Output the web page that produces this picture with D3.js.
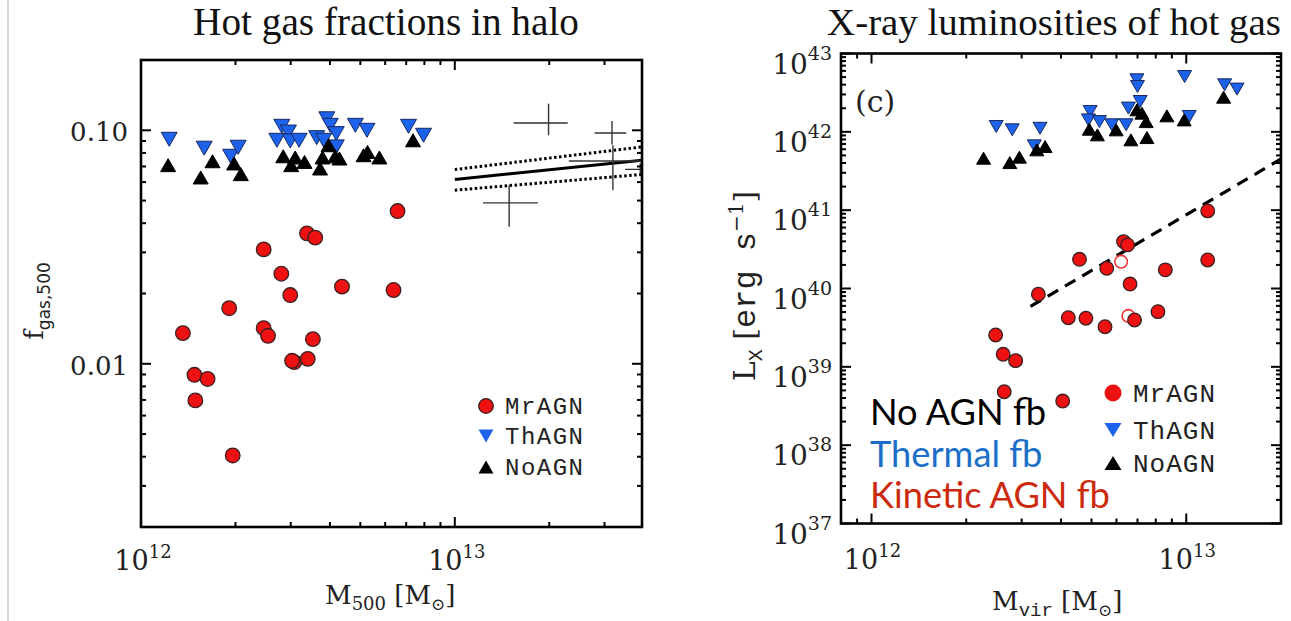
<!DOCTYPE html>
<html><head><meta charset="utf-8">
<script src="https://cdn.jsdelivr.net/npm/d3@7"></script>
<style>body{margin:0;background:#fff}svg{display:block}</style>
</head><body>
<svg id="c" width="1291" height="621"></svg>
<script>
// ---------- Left panel data: hot gas fraction vs M500 ----------
const thMassL = [1.23e12,1.59e12,1.93e12,2.04e12,2.71e12,2.81e12,2.95e12,2.99e12,3.19e12,3.63e12,3.82e12,3.91e12,4.01e12,4.19e12,4.19e12,4.82e12,5.25e12,7.12e12,7.95e12];
const thFracL = [0.0915,0.0838,0.0774,0.0846,0.0906,0.104,0.0983,0.090,0.0906,0.093,0.0906,0.112,0.105,0.0968,0.0849,0.105,0.100,0.104,0.0952];
const noMassL = [1.22e12,1.55e12,1.69e12,1.98e12,2.08e12,2.84e12,3.01e12,3.10e12,3.32e12,3.72e12,3.79e12,3.96e12,4.16e12,4.29e12,5.12e12,5.27e12,5.75e12,7.36e12];
const noFracL = [0.0709,0.0628,0.0737,0.0721,0.0649,0.0774,0.0709,0.0765,0.0732,0.0686,0.0765,0.0863,0.0774,0.0757,0.0782,0.0808,0.0765,0.0906];
const mrMassL = [6.57e12,3.38e12,3.59e12,2.46e12,2.80e12,2.99e12,4.37e12,6.38e12,1.91e12,1.36e12,2.46e12,2.54e12,3.53e12,3.08e12,3.03e12,3.40e12,1.48e12,1.63e12,1.49e12,1.96e12];
const mrFracL = [0.0451,0.0362,0.0347,0.0309,0.0243,0.0197,0.0214,0.0207,0.0173,0.01353,0.01421,0.01318,0.01275,0.01017,0.0103,0.0105,0.00897,0.00861,0.00697,0.00405];
// observational crosses
const obsMass   = [1.99e13,3.17e13,3.19e13,1.49e13,3.9e13];
const obsMassLo = [1.54e13,2.79e13,2.31e13,1.23e13,3.49e13];
const obsMassHi = [2.29e13,3.52e13,4.2e13,1.84e13,4.5e13];
const obsFrac   = [0.1075,0.0974,0.0739,0.0489,0.068];
const obsFracLo = [0.0952,0.0869,0.0554,0.0386,0.0648];
const obsFracHi = [0.130,0.1096,0.0863,0.0582,0.0723];
// fit relation
const fitMass = [1e13,3.95e13];
const fitMid  = [0.0616,0.0744];
const fitHi   = [0.0679,0.0849];
const fitLo   = [0.0554,0.0647];

// ---------- Right panel data: Lx vs Mvir ----------
const mrMassR = [1.17e13,6.32e12,6.51e12,4.58e12,5.59e12,8.58e12,1.17e13,6.63e12,3.39e12,4.22e12,4.80e12,5.52e12,6.85e12,8.13e12,2.48e12,2.62e12,2.87e12,2.64e12,4.05e12];
const mrLxR   = [9.78e40,3.97e40,3.60e40,2.36e40,1.81e40,1.73e40,2.31e40,1.14e40,8.44e39,4.24e39,4.17e39,3.25e39,3.96e39,5.06e39,2.55e39,1.445e39,1.20e39,4.81e38,3.66e38];
const openMassR = [6.21e12,6.55e12];
const openLxR   = [2.20e40,4.46e39];
const thMassR = [2.49e12,2.80e12,3.43e12,3.29e12,4.95e12,4.89e12,5.30e12,5.80e12,6.44e12,6.55e12,6.97e12,7.00e12,7.14e12,9.88e12,1.022e13,1.324e13,1.45e13];
const thLxR   = [1.17e42,1.06e42,1.11e42,6.62e41,1.82e42,1.42e42,1.35e42,1.23e42,1.23e42,2.01e42,4.61e42,3.79e42,2.44e42,5.08e42,1.57e42,3.98e42,3.51e42];
const noMassR = [2.27e12,2.75e12,2.95e12,3.35e12,3.56e12,4.92e12,5.22e12,5.99e12,6.67e12,6.97e12,7.23e12,7.46e12,7.50e12,8.68e12,9.85e12,1.314e13];
const noLxR   = [4.61e41,4.05e41,4.75e41,5.89e41,6.49e41,1.08e42,9.15e41,1.06e42,7.90e41,1.91e42,1.73e42,1.35e42,8.45e41,1.60e42,1.42e42,2.77e42];
const dashMass = [3.2e12,2e13];
const dashLx   = [5.9e39,4.5e41];

// ---------- ticks ----------
const xMajorL = [1e12,1e13];
const xMinorL = [2e12,3e12,4e12,5e12,6e12,7e12,8e12,9e12,2e13,3e13];
const yMajorL = [0.01,0.1];
const yMinorL = [0.003,0.004,0.005,0.006,0.007,0.008,0.009,0.02,0.03,0.04,0.05,0.06,0.07,0.08,0.09];
const yLabelsL = ["0.01","0.10"];
const xMajorR = [1e12,1e13];
const xMinorR = [9e11,2e12,3e12,4e12,5e12,6e12,7e12,8e12,9e12];
const yExpR = [37,38,39,40,41,42,43];
const xExp = [12,13];
const legendNames = ["MrAGN","ThAGN","NoAGN"];
const fbNames = ["No AGN fb","Thermal fb","Kinetic AGN fb"];

const RED="#ee1111", BLUE="#1c62ea", BLK="#000";
const SERIF="DejaVu Serif", MONO="Liberation Mono";

const svg = d3.select("#c");
svg.append("line").attr("x1",8).attr("x2",8).attr("y1",0).attr("y2",621).attr("stroke","#c8c8c8").attr("stroke-width",1.5);

// scales
const xL = d3.scaleLog().domain([1e12,3.95e13]).range([141,642]);
const yL = d3.scaleLog().domain([0.002,0.2]).range([527,60]);
const xR = d3.scaleLog().domain([8e11,2e13]).range([841,1281]);
const yR = d3.scaleLog().domain([1e37,1e43]).range([523.5,53.5]);

function triPath(w,h,down){
  return down ? `M${-w/2},${-h/2}L${w/2},${-h/2}L0,${h/2}Z` : `M${-w/2},${h/2}L${w/2},${h/2}L0,${-h/2}Z`;
}
function drawTri(g,xs,ys,x,y,w,h,down,fill,stroke){
  g.selectAll(null).data(xs.map((d,i)=>[d,ys[i]])).enter().append("path")
    .attr("d",triPath(w,h,down)).attr("transform",d=>`translate(${x(d[0])},${y(d[1])})`)
    .attr("fill",fill).attr("stroke",stroke).attr("stroke-width",1).attr("stroke-linejoin","round");
}
function drawCirc(g,xs,ys,x,y,r,fill,stroke,sw){
  g.selectAll(null).data(xs.map((d,i)=>[d,ys[i]])).enter().append("circle")
    .attr("cx",d=>x(d[0])).attr("cy",d=>y(d[1])).attr("r",r)
    .attr("fill",fill).attr("stroke",stroke).attr("stroke-width",sw);
}
function frame(x,y,xMaj,xMin,yMaj,yMin){
  const [x0,x1]=x.range(), [y0,y1]=y.range();
  const g=svg.append("g").attr("stroke","#000").attr("stroke-width",2);
  const T=(v,len,axis)=>{
    if(axis==="x"){
      g.append("line").attr("x1",x(v)).attr("x2",x(v)).attr("y1",y0).attr("y2",y0-len);
      g.append("line").attr("x1",x(v)).attr("x2",x(v)).attr("y1",y1).attr("y2",y1+len);
    } else {
      g.append("line").attr("y1",y(v)).attr("y2",y(v)).attr("x1",x0).attr("x2",x0+len);
      g.append("line").attr("y1",y(v)).attr("y2",y(v)).attr("x1",x1).attr("x2",x1-len);
    }
  };
  xMaj.forEach(v=>T(v,10,"x")); xMin.forEach(v=>T(v,5,"x"));
  yMaj.forEach(v=>T(v,10,"y")); yMin.forEach(v=>T(v,5,"y"));
  svg.append("rect").attr("x",x0).attr("y",y1).attr("width",x1-x0).attr("height",y0-y1)
    .attr("fill","none").attr("stroke","#000").attr("stroke-width",2.6);
}
function powLabel(x,y,exp,fs,sfs,dy,anchor){
  const t=svg.append("text").attr("x",x).attr("y",y).attr("font-family",SERIF).attr("font-size",fs)
    .attr("text-anchor",anchor).attr("fill","#222");
  t.append("tspan").text("10");
  t.append("tspan").attr("font-size",sfs).attr("dy",-dy).text(exp);
  return t;
}
function fit(sel,target){
  const l=sel.node().getComputedTextLength();
  const fs=parseFloat(sel.attr("font-size"));
  sel.attr("font-size",fs*target/l);
}

// ================= LEFT PANEL =================
svg.append("defs").append("clipPath").attr("id","clipL").append("rect")
  .attr("x",141).attr("y",60).attr("width",501).attr("height",467);
const gL = svg.append("g").attr("clip-path","url(#clipL)");
const lineL = d3.line().x(d=>xL(d[0])).y(d=>yL(d[1]));
gL.append("path").attr("d",lineL(fitMass.map((m,i)=>[m,fitMid[i]]))).attr("stroke","#000").attr("stroke-width",3).attr("fill","none");
[fitHi,fitLo].forEach(arr=>gL.append("path").attr("d",lineL(fitMass.map((m,i)=>[m,arr[i]])))
  .attr("stroke","#000").attr("stroke-width",3).attr("stroke-dasharray","2.5,2.5").attr("fill","none"));
obsMass.forEach((m,i)=>{
  gL.append("line").attr("x1",xL(obsMassLo[i])).attr("x2",xL(obsMassHi[i])).attr("y1",yL(obsFrac[i])).attr("y2",yL(obsFrac[i]))
    .attr("stroke","#333").attr("stroke-width",1.4);
  gL.append("line").attr("x1",xL(m)).attr("x2",xL(m)).attr("y1",yL(obsFracLo[i])).attr("y2",yL(obsFracHi[i]))
    .attr("stroke","#333").attr("stroke-width",1.4);
});
drawTri(gL,thMassL,thFracL,xL,yL,16,14,true,BLUE,"#1a2a60");
drawTri(gL,noMassL,noFracL,xL,yL,15,13,false,BLK,"#000");
drawCirc(gL,mrMassL,mrFracL,xL,yL,7.3,RED,"#3a2020",1.3);
frame(xL,yL,xMajorL,xMinorL,yMajorL,yMinorL);

yMajorL.forEach((v,i)=>svg.append("text").attr("x",128).attr("y",yL(v)+11).attr("text-anchor","end")
  .attr("font-family",SERIF).attr("font-size",26).attr("fill","#222").text(yLabelsL[i]));
xMajorL.forEach((v,i)=>powLabel(xL(v)+2,570,xExp[i],27,18,12,"middle"));
{
  const t=svg.append("text").attr("x",325).attr("y",604).attr("font-family",SERIF).attr("font-size",26).attr("fill","#222");
  t.append("tspan").text("M");
  t.append("tspan").attr("font-size",18).attr("dy",6).text("500");
  t.append("tspan").attr("dy",-6).text(" [M");
  t.append("tspan").attr("font-size",17).attr("dy",6).text("⊙");
  t.append("tspan").attr("dy",-6).text("]");
}
{
  const t=svg.append("text").attr("transform","translate(43,301) rotate(-90)").attr("text-anchor","middle")
    .attr("font-family",SERIF).attr("font-size",26).attr("fill","#222");
  t.append("tspan").text("f");
  t.append("tspan").attr("font-size",17).attr("font-family","DejaVu Sans").attr("dy",7).text("gas,500");
}
fit(svg.append("text").attr("x",386).attr("y",35).attr("text-anchor","middle").attr("font-family","Liberation Serif")
  .attr("font-size",30).attr("fill","#111").text("Hot gas fractions in halo"),386);
{
  const lx=486, ly=[406,436,467];
  svg.append("circle").attr("cx",lx).attr("cy",ly[0]).attr("r",7.3).attr("fill",RED).attr("stroke","#3a2020").attr("stroke-width",1.3);
  svg.append("path").attr("d",triPath(15,13,true)).attr("transform",`translate(${lx},${ly[1]})`).attr("fill",BLUE);
  svg.append("path").attr("d",triPath(15,13,false)).attr("transform",`translate(${lx},${ly[2]})`).attr("fill",BLK);
  legendNames.forEach((n,i)=>svg.append("text").attr("x",505).attr("y",ly[i]+8).attr("font-family",MONO)
    .attr("font-size",24).attr("letter-spacing",1.5).attr("fill","#222").text(n));
}

// ================= RIGHT PANEL =================
svg.select("defs").append("clipPath").attr("id","clipR").append("rect")
  .attr("x",841).attr("y",53.5).attr("width",440).attr("height",470);
const gR = svg.append("g").attr("clip-path","url(#clipR)");
gR.append("path").attr("d",d3.line().x(d=>xR(d[0])).y(d=>yR(d[1]))(dashMass.map((m,i)=>[m,dashLx[i]])))
  .attr("stroke","#000").attr("stroke-width",3.2).attr("stroke-dasharray","12,8").attr("fill","none");
drawTri(gR,thMassR,thLxR,xR,yR,14,12,true,BLUE,"#1a2a60");
drawTri(gR,noMassR,noLxR,xR,yR,14,12,false,BLK,"#000");
drawCirc(gR,openMassR,openLxR,xR,yR,6.3,"#fff","#ee3333",1.6);
drawCirc(gR,mrMassR,mrLxR,xR,yR,6.8,RED,"#3a2020",1.3);
const yMajR = yExpR.map(e=>Math.pow(10,e));
const yMinR = [];
yExpR.slice(0,-1).forEach(e=>{for(let k=2;k<=9;k++) yMinR.push(k*Math.pow(10,e));});
frame(xR,yR,xMajorR,xMinorR,yMajR,yMinR);
yExpR.forEach((e,i)=>powLabel(832,yR(yMajR[i])+20,e,28,19,14,"end"));
xMajorR.forEach((v,i)=>powLabel(xR(v)+1,569,xExp[i],27,18,12,"middle"));
svg.append("text").attr("x",855).attr("y",112).attr("font-family",SERIF).attr("font-size",30).attr("fill","#222").text("(c)");
{
  const t=svg.append("text").attr("x",992).attr("y",610).attr("font-family",SERIF).attr("font-size",26).attr("fill","#222");
  t.append("tspan").text("M");
  t.append("tspan").attr("font-size",19).attr("font-family",MONO).attr("dy",6).text("vir");
  t.append("tspan").attr("dy",-6).text(" [M");
  t.append("tspan").attr("font-size",17).attr("dy",6).text("⊙");
  t.append("tspan").attr("dy",-6).text("]");
}
{
  const t=svg.append("text").attr("transform","translate(755,286) rotate(-90)").attr("text-anchor","middle")
    .attr("font-family",SERIF).attr("font-size",30).attr("fill","#222");
  t.append("tspan").text("L");
  t.append("tspan").attr("font-size",20).attr("font-family",MONO).attr("dy",7).text("X");
  t.append("tspan").attr("dy",-7).text(" [");
  t.append("tspan").attr("font-family",MONO).attr("font-size",32).text("erg s");
  t.append("tspan").attr("font-size",20).attr("dy",-12).text("−1");
  t.append("tspan").attr("dy",12).text("]");
}
fit(svg.append("text").attr("x",1054).attr("y",35).attr("text-anchor","middle").attr("font-family","Liberation Serif")
  .attr("font-size",30).attr("fill","#111").text("X-ray luminosities of hot gas"),454);
{
  const lx=1113, ly=[393,430,463];
  svg.append("circle").attr("cx",lx).attr("cy",ly[0]).attr("r",8.5).attr("fill",RED).attr("stroke","none");
  svg.append("path").attr("d",triPath(17,14,true)).attr("transform",`translate(${lx},${ly[1]})`).attr("fill",BLUE);
  svg.append("path").attr("d",triPath(17,14,false)).attr("transform",`translate(${lx},${ly[2]})`).attr("fill",BLK);
  legendNames.forEach((n,i)=>svg.append("text").attr("x",1133).attr("y",ly[i]+9).attr("font-family",MONO)
    .attr("font-size",26).attr("letter-spacing",1).attr("fill","#222").text(n));
}
{
  const cols=["#000","#1b6fc8","#cc2a0c"], bl=[425,467,508];
  const tt=fbNames.map((n,i)=>svg.append("text").attr("x",870).attr("y",bl[i]).attr("font-family","Lato")
    .attr("font-size",32).attr("fill",cols[i]).text(n));
  const l=tt[2].node().getComputedTextLength();
  const fs=32*240/l;
  tt.forEach(t=>t.attr("font-size",fs));
}
</script>
</body></html>
